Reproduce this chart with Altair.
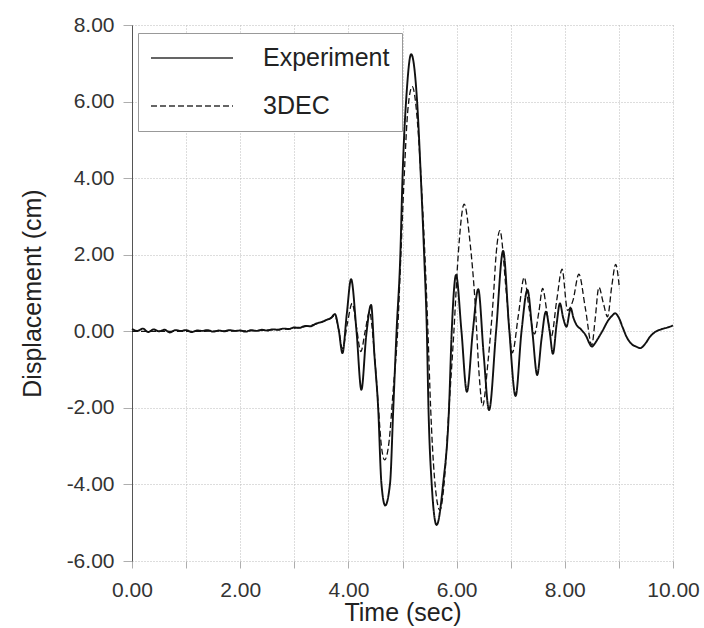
import altair as alt
import pandas as pd

# Experiment series (time in sec, displacement in cm)
exp_t = [0.0, 0.1, 0.2, 0.3, 0.4, 0.5, 0.6, 0.7, 0.8, 0.9, 1.0, 1.1, 1.2, 1.3, 1.4, 1.5,
         1.6, 1.7, 1.8, 1.9, 2.0, 2.1, 2.2, 2.3, 2.4, 2.5, 2.6, 2.7, 2.8, 2.9, 3.0,
         3.1, 3.2, 3.3, 3.4, 3.5, 3.6, 3.68, 3.75, 3.82, 3.89, 3.97, 4.05, 4.15, 4.24,
         4.33, 4.42, 4.48, 4.55, 4.61, 4.68, 4.77, 4.83, 4.89, 4.96, 5.00, 5.08, 5.16,
         5.27, 5.34, 5.40, 5.45, 5.48, 5.54, 5.63, 5.75, 5.86, 5.91, 5.99, 6.09, 6.19,
         6.30, 6.40, 6.50, 6.60, 6.73, 6.86, 6.97, 7.09, 7.20, 7.31, 7.40, 7.49, 7.57,
         7.65, 7.72, 7.78, 7.85, 7.91, 7.97, 8.03, 8.11, 8.16, 8.22, 8.30, 8.40, 8.45,
         8.50, 8.55, 8.60, 8.70, 8.80, 8.87, 8.93, 9.00, 9.07, 9.14, 9.25, 9.32, 9.39,
         9.50, 9.57, 9.64, 9.72, 9.80, 9.90, 10.00]
exp_v = [0.06, 0.01, 0.07, -0.02, 0.05, 0.00, 0.04, -0.03, 0.03, 0.01, 0.03, -0.02, 0.02,
         0.01, 0.03, -0.01, 0.02, 0.00, 0.03, 0.01, 0.02, -0.01, 0.03, 0.01, 0.04, 0.02,
         0.05, 0.04, 0.07, 0.06, 0.10,
         0.09, 0.14, 0.13, 0.20, 0.24, 0.30, 0.35, 0.45, 0.05, -0.57, 0.45, 1.36, 0.00,
         -1.53, -0.10, 0.69, -0.60, -2.00, -3.97, -4.55, -3.97, -2.00, 0.00, 2.00, 4.00,
         6.30, 7.24, 6.00, 4.00, 2.00, 0.00, -2.00, -4.00, -5.06, -4.00, -2.00, 0.00,
         1.47, 0.00, -1.58, 0.00, 1.10, -0.60, -2.06, 0.00, 2.10, 0.10, -1.69, 0.00,
         1.08, 0.00, -1.14, -0.20, 0.51, 0.00, -0.59, 0.20, 0.73, 0.35, 0.12, 0.60, 0.35,
         0.16, 0.05, -0.14, -0.30, -0.40, -0.33, -0.22, 0.02, 0.28, 0.40, 0.47, 0.35,
         0.10, -0.14, -0.35, -0.40, -0.44, -0.30, -0.15, -0.05, 0.02, 0.06, 0.10, 0.15]

# 3DEC series
dec_t = [0.0, 1.0, 2.0, 2.5, 3.0, 3.3, 3.5, 3.65, 3.75, 3.82, 3.89, 3.98, 4.07, 4.15,
         4.23, 4.31, 4.39, 4.47, 4.55, 4.61, 4.67, 4.75, 4.83, 4.91, 4.97, 5.03, 5.10,
         5.18, 5.28, 5.35, 5.42, 5.47, 5.52, 5.59, 5.69, 5.78, 5.86, 5.95, 6.03, 6.14,
         6.25, 6.34, 6.42, 6.48, 6.58, 6.68, 6.73, 6.80, 6.92, 7.03, 7.14, 7.25, 7.34,
         7.44, 7.52, 7.59, 7.67, 7.75, 7.85, 7.95, 8.05, 8.15, 8.26, 8.38, 8.50, 8.56,
         8.63, 8.71, 8.79, 8.87, 8.94, 9.01]
dec_v = [0.00, 0.00, 0.01, 0.03, 0.08, 0.15, 0.24, 0.33, 0.40, 0.05, -0.45, 0.20, 0.73,
         0.10, -0.53, 0.00, 0.51, -0.40, -1.90, -3.00, -3.36, -2.90, -1.50, 0.00, 2.00,
         4.00, 5.80, 6.39, 5.40, 3.80, 1.80, 0.00, -2.00, -3.80, -4.67, -3.80, -2.00,
         0.00, 2.00, 3.32, 2.30, 0.80, -1.20, -1.95, -0.80, 0.90, 2.00, 2.63, 1.00,
         -0.56, 0.40, 1.41, 0.60, -0.07, 0.50, 1.12, 0.50, -0.14, 0.80, 1.62, 0.55, 0.80,
         1.49, 0.60, -0.36, 0.30, 1.15, 0.75, 0.38, 1.20, 1.75, 1.12]

series_names = ["Experiment", "3DEC"]
x_ticks = list(range(0, 11))
y_ticks = list(range(-6, 9, 2))

df = pd.concat([
    pd.DataFrame({"t": exp_t, "v": exp_v, "series": series_names[0], "order": range(len(exp_t))}),
    pd.DataFrame({"t": dec_t, "v": dec_v, "series": series_names[1], "order": range(len(dec_t))}),
])

FONT = "Liberation Sans"

chart = alt.Chart(df).mark_line(interpolate="monotone", color="#111").encode(
    x=alt.X("t:Q",
            scale=alt.Scale(domain=[0, 10], nice=False, zero=False),
            axis=alt.Axis(values=x_ticks, title="Time (sec)",
                          labelExpr="datum.value % 2 == 0 ? format(datum.value, '.2f') : ''",
                          labelFlush=False, labelOverlap=False,
                          domain=False, tickSize=7, labelPadding=11, titlePadding=0)),
    y=alt.Y("v:Q",
            scale=alt.Scale(domain=[-6, 8], nice=False, zero=False),
            axis=alt.Axis(values=y_ticks, title="Displacement (cm)",
                          labelExpr="(datum.value < 0 ? '-' : '') + format(abs(datum.value), '.2f')",
                          labelFlush=False, labelOverlap=False,
                          domain=True, tickSize=9, labelPadding=9, titlePadding=21)),
    strokeDash=alt.StrokeDash("series:N",
                              scale=alt.Scale(domain=series_names, range=[[1, 0], [6, 3]]),
                              legend=alt.Legend(title=None, orient="none", legendX=6, legendY=8,
                                                strokeColor="#999", fillColor="white",
                                                padding=12, labelFontSize=25, labelFont=FONT,
                                                labelColor="#222",
                                                symbolType="stroke", symbolSize=6724,
                                                symbolStrokeWidth=1.3, symbolStrokeColor="#333",
                                                labelOffset=29, rowPadding=22, clipHeight=26)),
    strokeWidth=alt.condition(alt.datum.series == "Experiment", alt.value(1.9), alt.value(1.3)),
    order="order:Q",
).properties(
    width=541, height=536,
    padding={"left": 132, "top": 25, "right": 31, "bottom": 67},
    autosize=alt.AutoSizeParams(type="none"),
    background="white",
).configure_view(
    stroke=None
).configure_axis(
    grid=True, gridColor="#bbb", gridDash=[1, 2], gridWidth=1,
    tickColor="#999", tickWidth=0.8, domainColor="#555", domainWidth=1,
    labelFont=FONT, labelFontSize=21, labelColor="#333",
    titleFont=FONT, titleFontSize=25, titleFontWeight="normal", titleColor="#222",
)

chart.save("out.html", embed_options={"renderer": "svg", "actions": False})
